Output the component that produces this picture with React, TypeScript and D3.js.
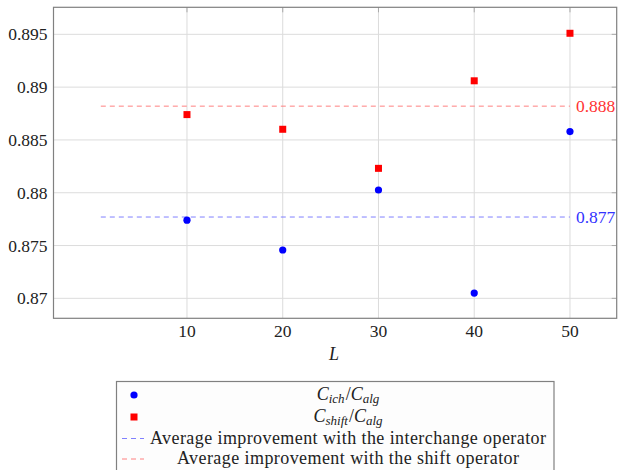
import React, { useEffect, useRef } from 'react';
import * as d3 from 'd3';

const lengths = [10, 20, 30, 40, 50];
const ichRatio = [0.8774, 0.87458, 0.88026, 0.8705, 0.88579];
const shiftRatio = [0.8874, 0.88601, 0.88231, 0.8906, 0.8951];
const avgIch = 0.8777;
const avgShift = 0.8882;
const avgIchLabel = '0.877';
const avgShiftLabel = '0.888';
const avgSpan = [1, 50];
const yTicks = [0.87, 0.875, 0.88, 0.885, 0.89, 0.895];
const yTickLabels = ['0.87', '0.875', '0.88', '0.885', '0.89', '0.895'];
const legendLines = [
  'Average improvement with the interchange operator',
  'Average improvement with the shift operator',
];
const legendWidths = [396, 342];

const App = () => {
  const svgRef = useRef<SVGSVGElement>(null);

  useEffect(() => {
    const svg = d3.select(svgRef.current);
    svg.selectAll('*').remove();

    const left = 53.5, right = 616.7, top = 7.3, bottom = 318.3;
    const x = d3.scaleLinear().domain([-3.94, 54.88]).range([left, right]);
    const y = d3.scaleLinear().domain([0.86811, 0.89756]).range([bottom, top]);

    const g = svg.append('g');

    // grid
    g.selectAll('.gx')
      .data(lengths)
      .join('line')
      .attr('x1', (d) => x(d))
      .attr('x2', (d) => x(d))
      .attr('y1', top)
      .attr('y2', bottom)
      .attr('stroke', '#dcdcdc')
      .attr('stroke-width', 1);
    g.selectAll('.gy')
      .data(yTicks)
      .join('line')
      .attr('x1', left)
      .attr('x2', right)
      .attr('y1', (d) => y(d))
      .attr('y2', (d) => y(d))
      .attr('stroke', '#dcdcdc')
      .attr('stroke-width', 1);

    // small ticks inside the frame, right and top
    g.selectAll('.ty')
      .data(yTicks)
      .join('line')
      .attr('x1', right - 5)
      .attr('x2', right)
      .attr('y1', (d) => y(d))
      .attr('y2', (d) => y(d))
      .attr('stroke', '#aaa');
    g.selectAll('.tx')
      .data(lengths)
      .join('line')
      .attr('x1', (d) => x(d))
      .attr('x2', (d) => x(d))
      .attr('y1', top)
      .attr('y2', top + 5)
      .attr('stroke', '#aaa');

    g.append('rect')
      .attr('x', left)
      .attr('y', top)
      .attr('width', right - left)
      .attr('height', bottom - top)
      .attr('fill', 'none')
      .attr('stroke', '#808080')
      .attr('stroke-width', 1.2);

    g.selectAll('.yl')
      .data(yTicks)
      .join('text')
      .attr('x', left - 6)
      .attr('y', (d) => y(d) + 6)
      .attr('text-anchor', 'end')
      .attr('font-size', 17.5)
      .attr('fill', '#222')
      .text((d, i) => yTickLabels[i]);
    g.selectAll('.xl')
      .data(lengths)
      .join('text')
      .attr('x', (d) => x(d))
      .attr('y', 337)
      .attr('text-anchor', 'middle')
      .attr('font-size', 17.5)
      .attr('fill', '#222')
      .text((d) => String(d));
    g.append('text')
      .attr('x', 334)
      .attr('y', 360)
      .attr('text-anchor', 'middle')
      .attr('font-style', 'italic')
      .attr('font-size', 18)
      .attr('fill', '#222')
      .text('L');

    const avgs = [
      { v: avgIch, label: avgIchLabel, line: '#8080ff', text: '#3333ff' },
      { v: avgShift, label: avgShiftLabel, line: '#ff8080', text: '#ff3333' },
    ];
    avgs.forEach((a) => {
      g.append('line')
        .attr('x1', x(avgSpan[0]))
        .attr('x2', x(avgSpan[1]))
        .attr('y1', y(a.v))
        .attr('y2', y(a.v))
        .attr('stroke', a.line)
        .attr('stroke-width', 1)
        .attr('stroke-dasharray', '5,4');
      g.append('text')
        .attr('x', x(avgSpan[1]) + 6)
        .attr('y', y(a.v) + 6)
        .attr('font-size', 17.5)
        .attr('fill', a.text)
        .text(a.label);
    });

    g.selectAll('.ich')
      .data(lengths)
      .join('circle')
      .attr('cx', (d) => x(d))
      .attr('cy', (d, i) => y(ichRatio[i]))
      .attr('r', 3.6)
      .attr('fill', '#0000ff');
    g.selectAll('.shift')
      .data(lengths)
      .join('rect')
      .attr('x', (d) => x(d) - 3.5)
      .attr('y', (d, i) => y(shiftRatio[i]) - 3.5)
      .attr('width', 7)
      .attr('height', 7)
      .attr('fill', '#ff0000');

    // legend
    const lg = svg.append('g');
    lg.append('rect')
      .attr('x', 116.5)
      .attr('y', 381.5)
      .attr('width', 437.5)
      .attr('height', 100)
      .attr('fill', '#fdfdfd')
      .attr('stroke', '#808080')
      .attr('stroke-width', 1.2);
    const rowY = [395, 417, 438.5, 459];
    const cx = 348;
    lg.append('circle').attr('cx', 134).attr('cy', rowY[0]).attr('r', 3.6).attr('fill', '#0000ff');
    lg.append('rect').attr('x', 130.5).attr('y', rowY[1] - 3.5).attr('width', 7).attr('height', 7).attr('fill', '#ff0000');
    lg.append('line').attr('x1', 122).attr('x2', 144).attr('y1', rowY[2]).attr('y2', rowY[2])
      .attr('stroke', '#8080ff').attr('stroke-dasharray', '5,4');
    lg.append('line').attr('x1', 122).attr('x2', 144).attr('y1', rowY[3]).attr('y2', rowY[3])
      .attr('stroke', '#ff8080').attr('stroke-dasharray', '5,4');

    const math = (row: number, sub1: string, sub2: string) => {
      const t = lg.append('text')
        .attr('x', cx)
        .attr('y', rowY[row] + 5)
        .attr('text-anchor', 'middle')
        .attr('font-size', 18)
        .attr('fill', '#222');
      t.append('tspan').attr('font-style', 'italic').text('C');
      t.append('tspan').attr('font-style', 'italic').attr('font-size', 13).attr('dy', 3).text(sub1);
      t.append('tspan').attr('dy', -3).attr('dx', 1).text('/');
      t.append('tspan').attr('font-style', 'italic').text('C');
      t.append('tspan').attr('font-style', 'italic').attr('font-size', 13).attr('dy', 3).text(sub2);
    };
    math(0, 'ich', 'alg');
    math(1, 'shift', 'alg');
    legendLines.forEach((s, i) => {
      lg.append('text')
        .attr('x', cx)
        .attr('y', rowY[i + 2] + 5)
        .attr('text-anchor', 'middle')
        .attr('font-size', 18)
        .attr('textLength', legendWidths[i])
        .attr('lengthAdjust', 'spacing')
        .attr('fill', '#222')
        .text(s);
    });
  }, []);

  return (
    <svg
      ref={svgRef}
      width={618}
      height={470}
      style={{ position: 'absolute', left: 0, top: 0, background: '#fff', fontFamily: '"Liberation Serif", serif' }}
    />
  );
};

export default App;
